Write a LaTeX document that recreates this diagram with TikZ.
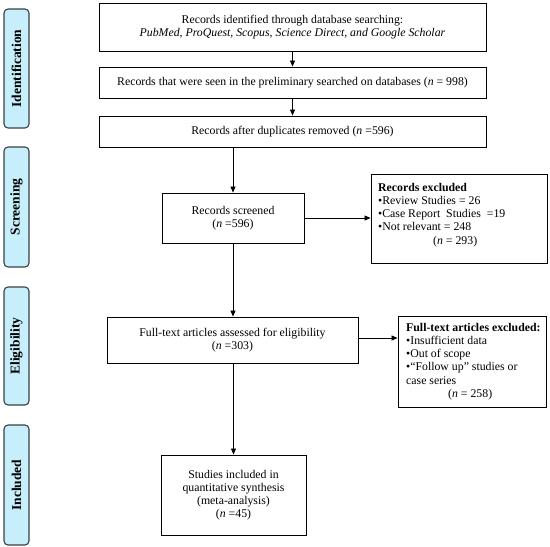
\documentclass[tikz,border=0pt]{standalone}
\usepackage{fontspec}
\setmainfont{Liberation Serif}
\usetikzlibrary{arrows.meta}
\definecolor{sidefill}{HTML}{C6EEFB}
\definecolor{sideline}{HTML}{3A3F45}
\begin{document}
\begin{tikzpicture}[x=1pt,y=-1pt,
  txt/.style={font=\fontsize{11.8}{13.2}\selectfont},
  flowbox/.style={draw=black, line width=0.9pt, inner sep=0pt, align=center, txt},
  exclbox/.style={draw=black, line width=0.9pt, inner sep=0pt, txt},
  sidebox/.style={draw=sideline, fill=sidefill, line width=1.1pt, rounded corners=4pt,
    rotate=90, minimum height=25pt, inner sep=0pt, font=\bfseries\fontsize{13.5}{14}\selectfont},
  arr/.style={-{Triangle[length=6pt,width=5pt]}, line width=0.8pt}]
\useasboundingbox (0,0) rectangle (550,547);

% side labels
\node[sidebox, minimum width=119pt] (sid) at (16.5,68.5) {Identification};
\node[sidebox, minimum width=120pt] (ssc) at (16.5,207) {Screening};
\node[sidebox, minimum width=118pt] (sel) at (16.5,346) {Eligibility};
\node[sidebox, minimum width=120pt] (sin) at (16.5,485) {Included};

% main boxes
\node[flowbox, minimum width=387pt, minimum height=48pt] (b1) at (292.5,27)
  {Records identified through database searching:\\ \textit{PubMed, ProQuest, Scopus, Science Direct, and Google Scholar}};
\node[flowbox, minimum width=387pt, minimum height=31pt] (b2) at (292.5,82.5)
  {Records that were seen in the preliminary searched on databases (\textit{n} = 998)};
\node[flowbox, minimum width=387pt, minimum height=31pt] (b3) at (292.5,131.5)
  {Records after duplicates removed (\textit{n} =596)};
\node[flowbox, minimum width=142pt, minimum height=50pt] (scr) at (233,218)
  {Records screened\\(\textit{n} =596)};
\node[exclbox, minimum width=176pt, minimum height=89pt] (ex1) at (459,218.5) {};
\node[txt, anchor=north west, inner sep=0pt, align=left] (ex1t) at (378,183)
  {\textbf{Records excluded}\\
   •Review Studies = 26\\
   •Case Report\ \ Studies\ \ =19\\
   •Not relevant = 248\\
   \hspace*{55pt}(\textit{n} = 293)};
\node[flowbox, minimum width=251pt, minimum height=46pt] (ft) at (232.5,340)
  {Full-text articles assessed for eligibility\\(\textit{n} =303)};
\node[exclbox, minimum width=148pt, minimum height=91pt] (ex2) at (472,361.5) {};
\node[txt, anchor=north west, inner sep=0pt, align=left] (ex2t) at (406,323)
  {\textbf{Full-text\ articles\ excluded:}\\
   •Insufficient data\\
   •Out of scope\\
   •“Follow up” studies or\\
   case series\\
   \hspace*{42pt}(\textit{n} = 258)};
\node[flowbox, minimum width=145pt, minimum height=80pt] (inc) at (233.5,495)
  {Studies included in\\quantitative synthesis\\(meta-analysis)\\(\textit{n} =45)};

% connectors
\draw[arr] (b1) -- (b2);
\draw[arr] (b2) -- (b3);
\draw[arr] (b3.south -| scr.north) -- (scr.north);
\draw[arr] (scr.east) -- (scr.east -| ex1.west);
\draw[arr] (scr.south) -- (scr.south |- ft.north);
\draw[arr] ([yshift=2pt]ft.east) -- ([yshift=2pt]ft.east -| ex2.west);
\draw[arr] (ft.south -| inc.north) -- (inc.north);
\end{tikzpicture}
\end{document}
